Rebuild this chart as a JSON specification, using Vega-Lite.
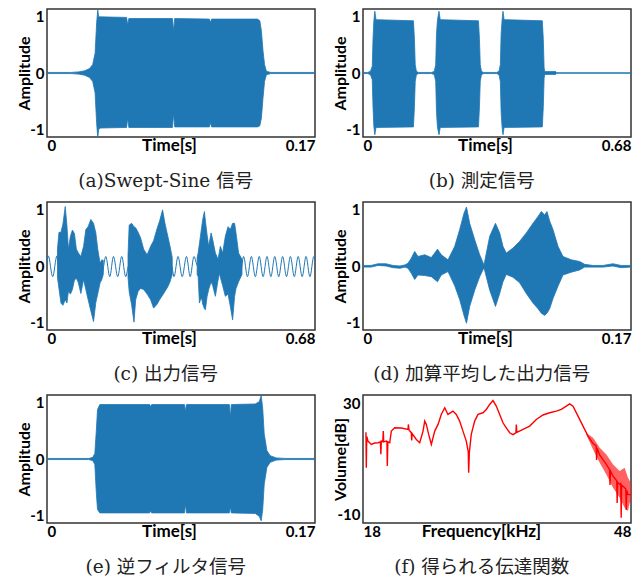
{
  "$schema": "https://vega.github.io/schema/vega-lite/v6.json",
  "padding": {"left": 15, "top": 8, "right": 5, "bottom": 5},
  "background": "white",
  "datasets": {
    "a": [
      {"t": 0, "hi": 0.01, "lo": -0.01},
      {"t": 0.015, "hi": 0.01, "lo": -0.01},
      {"t": 0.020, "hi": 0.02, "lo": -0.02},
      {"t": 0.024, "hi": 0.04, "lo": -0.04},
      {"t": 0.027, "hi": 0.08, "lo": -0.08},
      {"t": 0.029, "hi": 0.15, "lo": -0.15},
      {"t": 0.0305, "hi": 0.35, "lo": -0.35},
      {"t": 0.0315, "hi": 0.9, "lo": -0.9},
      {"t": 0.0322, "hi": 1.12, "lo": -1.15},
      {"t": 0.0328, "hi": 1.0, "lo": -1.0},
      {"t": 0.034, "hi": 1.0, "lo": -0.98},
      {"t": 0.0505, "hi": 0.99, "lo": -0.97},
      {"t": 0.0512, "hi": 0.85, "lo": -0.8},
      {"t": 0.0519, "hi": 0.97, "lo": -0.97},
      {"t": 0.0796, "hi": 0.97, "lo": -0.97},
      {"t": 0.0803, "hi": 0.75, "lo": -0.72},
      {"t": 0.081, "hi": 0.97, "lo": -0.96},
      {"t": 0.103, "hi": 0.96, "lo": -0.96},
      {"t": 0.1037, "hi": 0.9, "lo": -0.88},
      {"t": 0.1044, "hi": 0.96, "lo": -0.96},
      {"t": 0.1335, "hi": 0.96, "lo": -0.96},
      {"t": 0.135, "hi": 0.93, "lo": -0.94},
      {"t": 0.136, "hi": 0.75, "lo": -0.8},
      {"t": 0.137, "hi": 0.4, "lo": -0.45},
      {"t": 0.138, "hi": 0.15, "lo": -0.15},
      {"t": 0.1392, "hi": 0.03, "lo": -0.03},
      {"t": 0.142, "hi": 0.01, "lo": -0.01},
      {"t": 0.17, "hi": 0.01, "lo": -0.01}
    ],
    "b": [
      {"t": 0, "hi": 0.01, "lo": -0.01},
      {"t": 0.012, "hi": 0.01, "lo": -0.01},
      {"t": 0.019, "hi": 0.03, "lo": -0.03},
      {"t": 0.0235, "hi": 0.12, "lo": -0.12},
      {"t": 0.0254, "hi": 0.6, "lo": -0.6},
      {"t": 0.0275, "hi": 0.92, "lo": -0.95},
      {"t": 0.030, "hi": 1.1, "lo": -1.1},
      {"t": 0.033, "hi": 0.95, "lo": -0.97},
      {"t": 0.128, "hi": 0.93, "lo": -0.96},
      {"t": 0.1305, "hi": 0.6, "lo": -0.6},
      {"t": 0.1325, "hi": 0.15, "lo": -0.15},
      {"t": 0.1355, "hi": 0.03, "lo": -0.03},
      {"t": 0.141, "hi": 0.01, "lo": -0.01},
      {"t": 0.174, "hi": 0.01, "lo": -0.01},
      {"t": 0.181, "hi": 0.03, "lo": -0.03},
      {"t": 0.1845, "hi": 0.15, "lo": -0.15},
      {"t": 0.1865, "hi": 0.7, "lo": -0.7},
      {"t": 0.189, "hi": 0.95, "lo": -0.97},
      {"t": 0.1928, "hi": 1.1, "lo": -1.1},
      {"t": 0.196, "hi": 0.95, "lo": -0.97},
      {"t": 0.293, "hi": 0.93, "lo": -0.96},
      {"t": 0.2955, "hi": 0.6, "lo": -0.6},
      {"t": 0.2975, "hi": 0.15, "lo": -0.15},
      {"t": 0.3005, "hi": 0.03, "lo": -0.03},
      {"t": 0.306, "hi": 0.01, "lo": -0.01},
      {"t": 0.339, "hi": 0.01, "lo": -0.01},
      {"t": 0.345, "hi": 0.03, "lo": -0.03},
      {"t": 0.3485, "hi": 0.15, "lo": -0.15},
      {"t": 0.3505, "hi": 0.7, "lo": -0.7},
      {"t": 0.353, "hi": 0.95, "lo": -0.97},
      {"t": 0.3552, "hi": 1.1, "lo": -1.1},
      {"t": 0.358, "hi": 0.95, "lo": -0.97},
      {"t": 0.455, "hi": 0.93, "lo": -0.96},
      {"t": 0.4575, "hi": 0.6, "lo": -0.6},
      {"t": 0.4595, "hi": 0.1, "lo": -0.1},
      {"t": 0.461, "hi": 0.025, "lo": -0.025},
      {"t": 0.489, "hi": 0.025, "lo": -0.025},
      {"t": 0.491, "hi": 0.005, "lo": -0.005},
      {"t": 0.68, "hi": 0.005, "lo": -0.005}
    ],
    "c_env": [
      {"b": 1, "t": 0.02654, "hi": 0.3, "lo": -0.2},
      {"b": 1, "t": 0.03034, "hi": 0.6, "lo": -0.4},
      {"b": 1, "t": 0.03539, "hi": 0.6, "lo": -0.66},
      {"b": 1, "t": 0.04045, "hi": 0.75, "lo": -0.7},
      {"b": 1, "t": 0.04626, "hi": 1.06, "lo": -0.6},
      {"b": 1, "t": 0.05056, "hi": 0.72, "lo": -0.66},
      {"b": 1, "t": 0.05435, "hi": 0.3, "lo": -0.45},
      {"b": 1, "t": 0.05941, "hi": 0.53, "lo": -0.5},
      {"b": 1, "t": 0.06446, "hi": 0.64, "lo": -0.42},
      {"b": 1, "t": 0.06952, "hi": 0.58, "lo": -0.25},
      {"b": 1, "t": 0.07458, "hi": 0.3, "lo": -0.22},
      {"b": 1, "t": 0.07963, "hi": 0.23, "lo": -0.3},
      {"b": 1, "t": 0.08595, "hi": 0.17, "lo": -0.49},
      {"b": 1, "t": 0.09278, "hi": 0.35, "lo": -0.24},
      {"b": 1, "t": 0.09859, "hi": 0.65, "lo": -0.42},
      {"b": 1, "t": 0.10441, "hi": 0.7, "lo": -0.6},
      {"b": 1, "t": 0.11123, "hi": 0.83, "lo": -0.8},
      {"b": 1, "t": 0.11806, "hi": 0.76, "lo": -0.99},
      {"b": 1, "t": 0.12387, "hi": 0.59, "lo": -0.65},
      {"b": 1, "t": 0.12893, "hi": 0.29, "lo": -0.49},
      {"b": 1, "t": 0.13474, "hi": 0.05, "lo": -0.3},
      {"b": 1, "t": 0.13904, "hi": 0.11, "lo": -0.24},
      {"b": 1, "t": 0.14283, "hi": 0.1, "lo": -0.15},
      {"b": 2, "t": 0.20553, "hi": 0.2, "lo": -0.2},
      {"b": 2, "t": 0.20856, "hi": 0.73, "lo": -0.46},
      {"b": 2, "t": 0.21488, "hi": 0.76, "lo": -0.7},
      {"b": 2, "t": 0.22069, "hi": 0.7, "lo": -1.0},
      {"b": 2, "t": 0.22499, "hi": 0.68, "lo": -0.6},
      {"b": 2, "t": 0.23131, "hi": 0.6, "lo": -0.45},
      {"b": 2, "t": 0.23763, "hi": 0.5, "lo": -0.4},
      {"b": 2, "t": 0.24522, "hi": 0.3, "lo": -0.42},
      {"b": 2, "t": 0.25406, "hi": 0.2, "lo": -0.5},
      {"b": 2, "t": 0.26291, "hi": 0.35, "lo": -0.6},
      {"b": 2, "t": 0.2705, "hi": 0.45, "lo": -0.75},
      {"b": 2, "t": 0.27934, "hi": 0.67, "lo": -0.68},
      {"b": 2, "t": 0.28566, "hi": 0.8, "lo": -0.6},
      {"b": 2, "t": 0.29325, "hi": 1.0, "lo": -0.52},
      {"b": 2, "t": 0.29957, "hi": 0.75, "lo": -0.45},
      {"b": 2, "t": 0.30589, "hi": 0.55, "lo": -0.38},
      {"b": 2, "t": 0.31221, "hi": 0.35, "lo": -0.28},
      {"b": 2, "t": 0.31777, "hi": 0.15, "lo": -0.15},
      {"b": 3, "t": 0.38097, "hi": 0.15, "lo": -0.15},
      {"b": 3, "t": 0.3835, "hi": 0.23, "lo": -0.19},
      {"b": 3, "t": 0.38678, "hi": 0.4, "lo": -0.66},
      {"b": 3, "t": 0.38931, "hi": 0.53, "lo": -0.6},
      {"b": 3, "t": 0.3926, "hi": 0.7, "lo": -0.58},
      {"b": 3, "t": 0.39513, "hi": 0.83, "lo": -0.68},
      {"b": 3, "t": 0.39942, "hi": 0.97, "lo": -0.76},
      {"b": 3, "t": 0.40195, "hi": 0.8, "lo": -0.78},
      {"b": 3, "t": 0.40625, "hi": 0.55, "lo": -0.54},
      {"b": 3, "t": 0.41029, "hi": 0.35, "lo": -0.42},
      {"b": 3, "t": 0.41636, "hi": 0.59, "lo": -0.28},
      {"b": 3, "t": 0.42041, "hi": 0.47, "lo": -0.35},
      {"b": 3, "t": 0.42723, "hi": 0.23, "lo": -0.54},
      {"b": 3, "t": 0.43406, "hi": 0.12, "lo": -0.25},
      {"b": 3, "t": 0.43734, "hi": 0.25, "lo": -0.13},
      {"b": 3, "t": 0.43987, "hi": 0.35, "lo": -0.2},
      {"b": 3, "t": 0.44569, "hi": 0.23, "lo": -0.35},
      {"b": 3, "t": 0.45251, "hi": 0.53, "lo": -0.54},
      {"b": 3, "t": 0.45934, "hi": 0.7, "lo": -0.5},
      {"b": 3, "t": 0.46515, "hi": 0.65, "lo": -0.72},
      {"b": 3, "t": 0.47097, "hi": 0.76, "lo": -0.96},
      {"b": 3, "t": 0.47602, "hi": 0.76, "lo": -0.54},
      {"b": 3, "t": 0.47956, "hi": 0.59, "lo": -0.4},
      {"b": 3, "t": 0.48613, "hi": 0.23, "lo": -0.28},
      {"b": 3, "t": 0.49473, "hi": 0.12, "lo": -0.15}
    ],
    "c_wave": [
      {"t": 0, "v": 0.05},
      {"t": 0.00329, "v": 0.18},
      {"t": 0.01441, "v": -0.19},
      {"t": 0.02528, "v": 0.18},
      {"t": 0.03, "v": 0},
      {"t": 0.139, "v": -0.15},
      {"t": 0.14915, "v": 0.17},
      {"t": 0.15926, "v": -0.19},
      {"t": 0.16862, "v": 0.17},
      {"t": 0.17949, "v": -0.19},
      {"t": 0.1896, "v": 0.17},
      {"t": 0.19971, "v": -0.19},
      {"t": 0.207, "v": 0},
      {"t": 0.316, "v": 0},
      {"t": 0.32232, "v": -0.19},
      {"t": 0.33243, "v": 0.17},
      {"t": 0.34305, "v": -0.19},
      {"t": 0.35392, "v": 0.17},
      {"t": 0.36328, "v": -0.19},
      {"t": 0.37288, "v": 0.17},
      {"t": 0.382, "v": 0},
      {"t": 0.4905, "v": -0.15},
      {"t": 0.49878, "v": 0.17},
      {"t": 0.50864, "v": -0.19},
      {"t": 0.51849, "v": 0.17},
      {"t": 0.52861, "v": -0.19},
      {"t": 0.53846, "v": 0.17},
      {"t": 0.54833, "v": -0.19},
      {"t": 0.55818, "v": 0.17},
      {"t": 0.56805, "v": -0.19},
      {"t": 0.5779, "v": 0.17},
      {"t": 0.58801, "v": -0.19},
      {"t": 0.59787, "v": 0.17},
      {"t": 0.60773, "v": -0.19},
      {"t": 0.61759, "v": 0.17},
      {"t": 0.62746, "v": -0.19},
      {"t": 0.63731, "v": 0.17},
      {"t": 0.64742, "v": -0.19},
      {"t": 0.65728, "v": 0.17},
      {"t": 0.66715, "v": -0.19},
      {"t": 0.67701, "v": 0.17},
      {"t": 0.68, "v": 0.1}
    ],
    "d": [
      {"t": 0, "hi": 0.01, "lo": -0.02},
      {"t": 0.00507, "hi": 0.01, "lo": -0.02},
      {"t": 0.00951, "hi": 0.04, "lo": 0.01},
      {"t": 0.01459, "hi": 0.04, "lo": 0.0},
      {"t": 0.01903, "hi": 0.01, "lo": -0.03},
      {"t": 0.02347, "hi": 0.0, "lo": -0.04},
      {"t": 0.02664, "hi": 0.02, "lo": -0.02},
      {"t": 0.02854, "hi": 0.05, "lo": -0.04},
      {"t": 0.03064, "hi": 0.14, "lo": -0.13},
      {"t": 0.03279, "hi": 0.26, "lo": -0.24},
      {"t": 0.03489, "hi": 0.17, "lo": -0.16},
      {"t": 0.03914, "hi": 0.2, "lo": -0.17},
      {"t": 0.04332, "hi": 0.15, "lo": -0.19},
      {"t": 0.04726, "hi": 0.3, "lo": -0.28},
      {"t": 0.04967, "hi": 0.2, "lo": -0.16},
      {"t": 0.05392, "hi": 0.11, "lo": -0.1},
      {"t": 0.05817, "hi": 0.35, "lo": -0.35},
      {"t": 0.06134, "hi": 0.65, "lo": -0.6},
      {"t": 0.06406, "hi": 0.94, "lo": -0.88},
      {"t": 0.06565, "hi": 1.05, "lo": -1.02},
      {"t": 0.06768, "hi": 0.76, "lo": -0.72},
      {"t": 0.07085, "hi": 0.47, "lo": -0.43},
      {"t": 0.07402, "hi": 0.2, "lo": -0.19},
      {"t": 0.07675, "hi": 0.02, "lo": -0.03},
      {"t": 0.08037, "hi": 0.53, "lo": -0.43},
      {"t": 0.08404, "hi": 0.76, "lo": -0.72},
      {"t": 0.08671, "hi": 0.59, "lo": -0.49},
      {"t": 0.0888, "hi": 0.35, "lo": -0.28},
      {"t": 0.09089, "hi": 0.23, "lo": -0.15},
      {"t": 0.09515, "hi": 0.32, "lo": -0.2},
      {"t": 0.09939, "hi": 0.44, "lo": -0.3},
      {"t": 0.10358, "hi": 0.59, "lo": -0.49},
      {"t": 0.10783, "hi": 0.76, "lo": -0.66},
      {"t": 0.111, "hi": 0.88, "lo": -0.76},
      {"t": 0.1131, "hi": 0.97, "lo": -0.84},
      {"t": 0.11525, "hi": 0.91, "lo": -0.88},
      {"t": 0.11671, "hi": 0.97, "lo": -0.84},
      {"t": 0.11842, "hi": 0.8, "lo": -0.76},
      {"t": 0.12052, "hi": 0.65, "lo": -0.58},
      {"t": 0.12369, "hi": 0.35, "lo": -0.36},
      {"t": 0.12686, "hi": 0.17, "lo": -0.16},
      {"t": 0.13212, "hi": 0.11, "lo": -0.11},
      {"t": 0.13745, "hi": 0.08, "lo": -0.07},
      {"t": 0.14062, "hi": 0.03, "lo": -0.02},
      {"t": 0.14589, "hi": 0.01, "lo": -0.02},
      {"t": 0.15223, "hi": 0.01, "lo": -0.02},
      {"t": 0.15858, "hi": 0.04, "lo": 0.0},
      {"t": 0.16365, "hi": 0.01, "lo": -0.03},
      {"t": 0.17, "hi": 0.01, "lo": -0.02}
    ],
    "e": [
      {"t": 0, "hi": 0.01, "lo": -0.01},
      {"t": 0.02654, "hi": 0.01, "lo": -0.01},
      {"t": 0.02907, "hi": 0.03, "lo": -0.03},
      {"t": 0.03034, "hi": 0.1, "lo": -0.1},
      {"t": 0.03128, "hi": 0.5, "lo": -0.6},
      {"t": 0.03204, "hi": 0.88, "lo": -0.9},
      {"t": 0.0335, "hi": 0.97, "lo": -0.96},
      {"t": 0.0651, "hi": 0.97, "lo": -0.96},
      {"t": 0.06573, "hi": 0.93, "lo": -0.92},
      {"t": 0.06636, "hi": 0.97, "lo": -0.96},
      {"t": 0.08722, "hi": 0.97, "lo": -0.96},
      {"t": 0.08785, "hi": 0.85, "lo": -0.8},
      {"t": 0.08848, "hi": 0.97, "lo": -0.96},
      {"t": 0.11566, "hi": 0.97, "lo": -0.96},
      {"t": 0.11629, "hi": 0.75, "lo": -0.85},
      {"t": 0.11692, "hi": 0.97, "lo": -0.96},
      {"t": 0.13209, "hi": 0.98, "lo": -0.97},
      {"t": 0.13462, "hi": 1.02, "lo": -1.02},
      {"t": 0.13588, "hi": 1.13, "lo": -1.1},
      {"t": 0.13683, "hi": 0.9, "lo": -0.9},
      {"t": 0.13778, "hi": 0.45, "lo": -0.45},
      {"t": 0.13948, "hi": 0.15, "lo": -0.15},
      {"t": 0.14157, "hi": 0.06, "lo": -0.06},
      {"t": 0.14536, "hi": 0.02, "lo": -0.02},
      {"t": 0.15105, "hi": 0.01, "lo": -0.01},
      {"t": 0.17, "hi": 0.01, "lo": -0.01}
    ],
    "f_line": [
      {"k": 18.33, "db": 19.5},
      {"k": 18.37, "db": 6.7},
      {"k": 18.42, "db": 18.0},
      {"k": 18.56, "db": 16.3},
      {"k": 18.93, "db": 15.1},
      {"k": 19.3, "db": 15.6},
      {"k": 19.68, "db": 15.7},
      {"k": 19.95, "db": 16.0},
      {"k": 20.0, "db": 11.6},
      {"k": 20.05, "db": 16.3},
      {"k": 20.22, "db": 16.1},
      {"k": 20.27, "db": 19.9},
      {"k": 20.32, "db": 16.0},
      {"k": 20.61, "db": 16.3},
      {"k": 20.68, "db": 16.0},
      {"k": 20.72, "db": 7.3},
      {"k": 20.78, "db": 16.0},
      {"k": 20.99, "db": 15.7},
      {"k": 21.17, "db": 19.9},
      {"k": 21.55, "db": 21.1},
      {"k": 22.29, "db": 21.0},
      {"k": 23.04, "db": 20.5},
      {"k": 23.08, "db": 22.3},
      {"k": 23.15, "db": 20.3},
      {"k": 23.41, "db": 19.3},
      {"k": 23.45, "db": 16.5},
      {"k": 23.5, "db": 19.0},
      {"k": 23.97, "db": 16.9},
      {"k": 24.35, "db": 15.7},
      {"k": 24.72, "db": 19.9},
      {"k": 24.91, "db": 23.5},
      {"k": 25.09, "db": 22.3},
      {"k": 25.35, "db": 18.7},
      {"k": 25.65, "db": 15.1},
      {"k": 26.03, "db": 19.9},
      {"k": 26.4, "db": 22.3},
      {"k": 26.76, "db": 25.9},
      {"k": 27.15, "db": 28.3},
      {"k": 27.51, "db": 25.9},
      {"k": 28.07, "db": 27.1},
      {"k": 28.44, "db": 25.9},
      {"k": 28.82, "db": 23.5},
      {"k": 29.19, "db": 19.9},
      {"k": 29.56, "db": 16.3},
      {"k": 29.78, "db": 12.5},
      {"k": 29.83, "db": 4.9},
      {"k": 29.9, "db": 12.0},
      {"k": 30.12, "db": 18.7},
      {"k": 30.5, "db": 23.5},
      {"k": 30.87, "db": 25.9},
      {"k": 31.43, "db": 26.5},
      {"k": 31.8, "db": 27.7},
      {"k": 32.18, "db": 29.5},
      {"k": 32.55, "db": 30.9},
      {"k": 32.92, "db": 28.9},
      {"k": 33.3, "db": 25.9},
      {"k": 33.67, "db": 22.9},
      {"k": 34.04, "db": 21.1},
      {"k": 34.42, "db": 19.3},
      {"k": 34.79, "db": 18.6},
      {"k": 35.12, "db": 19.3},
      {"k": 35.16, "db": 22.3},
      {"k": 35.22, "db": 19.4},
      {"k": 35.91, "db": 20.5},
      {"k": 36.66, "db": 21.7},
      {"k": 37.4, "db": 24.1},
      {"k": 38.15, "db": 25.7},
      {"k": 38.9, "db": 26.5},
      {"k": 39.64, "db": 27.1},
      {"k": 40.2, "db": 27.7},
      {"k": 40.76, "db": 28.9},
      {"k": 41.14, "db": 29.7},
      {"k": 41.51, "db": 28.9},
      {"k": 42.07, "db": 25.3},
      {"k": 42.63, "db": 21.7},
      {"k": 43.19, "db": 18.1},
      {"k": 43.75, "db": 15.4},
      {"k": 44.1, "db": 14.6},
      {"k": 44.15, "db": 9.5},
      {"k": 44.2, "db": 13.8},
      {"k": 44.5, "db": 11.2},
      {"k": 45.24, "db": 7.9},
      {"k": 45.6, "db": 6.0},
      {"k": 45.65, "db": 0.5},
      {"k": 45.7, "db": 5.5},
      {"k": 45.99, "db": 3.7},
      {"k": 46.4, "db": 2.0},
      {"k": 46.45, "db": -6.0},
      {"k": 46.5, "db": 1.5},
      {"k": 46.73, "db": 0.7},
      {"k": 46.85, "db": 1.0},
      {"k": 46.9, "db": -11.3},
      {"k": 46.95, "db": 0.5},
      {"k": 47.29, "db": -0.5},
      {"k": 47.42, "db": -1.0},
      {"k": 47.47, "db": -8.5},
      {"k": 47.52, "db": -1.5},
      {"k": 47.66, "db": -2.9},
      {"k": 48.0, "db": -3.0}
    ],
    "f_band": [
      {"k": 43.0, "hi": 19.2, "lo": 18.6},
      {"k": 43.19, "hi": 18.8, "lo": 17.2},
      {"k": 43.75, "hi": 17.5, "lo": 13.3},
      {"k": 44.5, "hi": 13.9, "lo": 8.5},
      {"k": 45.24, "hi": 11.5, "lo": 4.3},
      {"k": 45.99, "hi": 7.9, "lo": -0.5},
      {"k": 46.73, "hi": 5.5, "lo": -4.1},
      {"k": 47.29, "hi": 6.7, "lo": -7.7},
      {"k": 47.66, "hi": 3.1, "lo": -8.9},
      {"k": 47.85, "hi": 2.0, "lo": -6.0},
      {"k": 48.0, "hi": 1.0, "lo": -5.0}
    ]
  },
  "columns": 2,
  "spacing": {"row": 9, "column": 15},
  "concat": [
    {
      "width": 268, "height": 128,
      "title": {"text": "(a)Swept-Sine 信号"},
      "data": {"name": "a"},
      "mark": {"type": "area", "color": "#1f77b4", "stroke": "#1f77b4", "strokeWidth": 0.8, "clip": true},
      "encoding": {
        "x": {"field": "t", "type": "quantitative", "scale": {"domain": [0, 0.17], "nice": false, "zero": false}, "axis": {"values": [0, 0.17], "title": "Time[s]", "labelExpr": "datum.value + ''"}},
        "y": {"field": "hi", "type": "quantitative", "scale": {"domain": [-1.14, 1.14], "nice": false}, "axis": {"values": [-1, 0, 1], "title": "Amplitude", "labelExpr": "datum.value + ''"}},
        "y2": {"field": "lo"}
      }
    },
    {
      "width": 268, "height": 128,
      "title": {"text": "(b) 測定信号"},
      "data": {"name": "b"},
      "mark": {"type": "area", "color": "#1f77b4", "stroke": "#1f77b4", "strokeWidth": 0.8, "clip": true},
      "encoding": {
        "x": {"field": "t", "type": "quantitative", "scale": {"domain": [0, 0.68], "nice": false, "zero": false}, "axis": {"values": [0, 0.68], "title": "Time[s]", "labelExpr": "datum.value + ''"}},
        "y": {"field": "hi", "type": "quantitative", "scale": {"domain": [-1.14, 1.14], "nice": false}, "axis": {"values": [-1, 0, 1], "title": "Amplitude", "labelExpr": "datum.value + ''"}},
        "y2": {"field": "lo"}
      }
    },
    {
      "width": 268, "height": 128,
      "title": {"text": "(c) 出力信号"},
      "layer": [
        {
          "data": {"name": "c_wave"},
          "mark": {"type": "line", "color": "#1f77b4", "strokeWidth": 1, "interpolate": "monotone", "clip": true},
          "encoding": {
            "x": {"field": "t", "type": "quantitative", "scale": {"domain": [0, 0.68], "nice": false, "zero": false}, "axis": {"values": [0, 0.68], "title": "Time[s]", "labelExpr": "datum.value + ''"}},
            "y": {"field": "v", "type": "quantitative", "scale": {"domain": [-1.14, 1.14], "nice": false}, "axis": {"values": [-1, 0, 1], "title": "Amplitude", "labelExpr": "datum.value + ''"}}
          }
        },
        {
          "data": {"name": "c_env"},
          "mark": {"type": "area", "color": "#1f77b4", "stroke": "#1f77b4", "strokeWidth": 0.8, "clip": true},
          "encoding": {
            "x": {"field": "t", "type": "quantitative"},
            "y": {"field": "hi", "type": "quantitative"},
            "y2": {"field": "lo"},
            "detail": {"field": "b", "type": "nominal"}
          }
        }
      ]
    },
    {
      "width": 268, "height": 128,
      "title": {"text": "(d) 加算平均した出力信号"},
      "data": {"name": "d"},
      "mark": {"type": "area", "color": "#1f77b4", "stroke": "#1f77b4", "strokeWidth": 0.8, "clip": true},
      "encoding": {
        "x": {"field": "t", "type": "quantitative", "scale": {"domain": [0, 0.17], "nice": false, "zero": false}, "axis": {"values": [0, 0.17], "title": "Time[s]", "labelExpr": "datum.value + ''"}},
        "y": {"field": "hi", "type": "quantitative", "scale": {"domain": [-1.14, 1.14], "nice": false}, "axis": {"values": [-1, 0, 1], "title": "Amplitude", "labelExpr": "datum.value + ''"}},
        "y2": {"field": "lo"}
      }
    },
    {
      "width": 268, "height": 128,
      "title": {"text": "(e) 逆フィルタ信号"},
      "data": {"name": "e"},
      "mark": {"type": "area", "color": "#1f77b4", "stroke": "#1f77b4", "strokeWidth": 0.8, "clip": true},
      "encoding": {
        "x": {"field": "t", "type": "quantitative", "scale": {"domain": [0, 0.17], "nice": false, "zero": false}, "axis": {"values": [0, 0.17], "title": "Time[s]", "labelExpr": "datum.value + ''"}},
        "y": {"field": "hi", "type": "quantitative", "scale": {"domain": [-1.14, 1.14], "nice": false}, "axis": {"values": [-1, 0, 1], "title": "Amplitude", "labelExpr": "datum.value + ''"}},
        "y2": {"field": "lo"}
      }
    },
    {
      "width": 268, "height": 128,
      "title": {"text": "(f) 得られる伝達関数"},
      "layer": [
        {
          "data": {"name": "f_band"},
          "mark": {"type": "area", "color": "#ff2020", "opacity": 0.7, "clip": true},
          "encoding": {
            "x": {"field": "k", "type": "quantitative", "scale": {"domain": [18, 48], "nice": false, "zero": false}, "axis": {"values": [18, 48], "title": "Frequency[kHz]", "titleX": 118, "labelExpr": "datum.value + ''"}},
            "y": {"field": "hi", "type": "quantitative", "scale": {"domain": [-13.2, 32.9], "nice": false, "zero": false}, "axis": {"values": [-10, 30], "title": "Volume[dB]", "labelExpr": "datum.value + ''"}},
            "y2": {"field": "lo"}
          }
        },
        {
          "data": {"name": "f_line"},
          "mark": {"type": "line", "color": "#ff0000", "strokeWidth": 1.4, "clip": true},
          "encoding": {
            "x": {"field": "k", "type": "quantitative"},
            "y": {"field": "db", "type": "quantitative"}
          }
        }
      ]
    }
  ],
  "config": {
    "view": {"stroke": "#333333", "strokeWidth": 1.5},
    "axis": {"domain": false, "ticks": false, "grid": false, "labelFont": "Lato", "labelFontWeight": "bold", "labelFontSize": 15, "labelColor": "#000000", "titleFont": "Lato", "titleFontWeight": "bold", "titleFontSize": 17, "titleColor": "#000000"},
    "axisX": {"labelPadding": 1, "labelFlush": true, "titleX": 122, "titleY": 0, "titleBaseline": "top", "titleAlign": "center"},
    "axisY": {"labelPadding": 3, "titleX": -22.5, "titleBaseline": "middle", "labelFlush": false, "titleFontSize": 16},
    "title": {"orient": "bottom", "anchor": "middle", "frame": "bounds", "font": "DejaVu Serif, Noto Sans CJK JP", "fontSize": 18.5, "fontWeight": "normal", "color": "#222222", "offset": 19}
  }
}
